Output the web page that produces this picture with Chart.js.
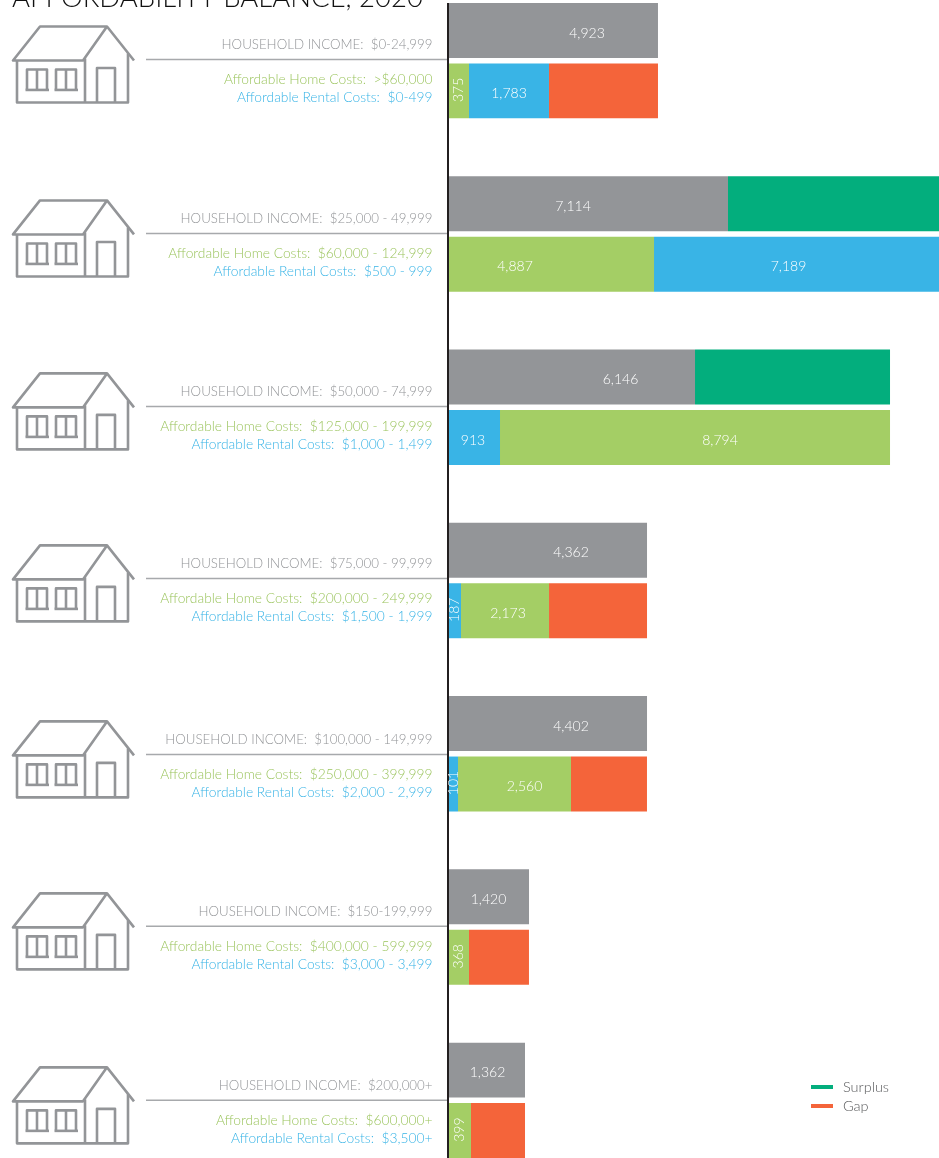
<!DOCTYPE html>
<html><head><meta charset="utf-8">
<script src="https://cdn.jsdelivr.net/npm/chart.js@4"></script>
<style>html,body{margin:0;padding:0;background:#fff;overflow:hidden;width:939px;height:1158px}
#wrap{position:absolute;left:0;top:-26px;width:939px;height:1213px}</style>
</head><body><div id="wrap"><canvas id="c" width="939" height="1213"></canvas></div>
<script>
const title = "AFFORDABILITY BALANCE, 2020";
const incomeBands = ["HOUSEHOLD INCOME:  $0-24,999","HOUSEHOLD INCOME:  $25,000 - 49,999","HOUSEHOLD INCOME:  $50,000 - 74,999","HOUSEHOLD INCOME:  $75,000 - 99,999","HOUSEHOLD INCOME:  $100,000 - 149,999","HOUSEHOLD INCOME:  $150-199,999","HOUSEHOLD INCOME:  $200,000+"];
const homeCosts = ["Affordable Home Costs:  >$60,000","Affordable Home Costs:  $60,000 - 124,999","Affordable Home Costs:  $125,000 - 199,999","Affordable Home Costs:  $200,000 - 249,999","Affordable Home Costs:  $250,000 - 399,999","Affordable Home Costs:  $400,000 - 599,999","Affordable Home Costs:  $600,000+"];
const rentalCosts = ["Affordable Rental Costs:  $0-499","Affordable Rental Costs:  $500 - 999","Affordable Rental Costs:  $1,000 - 1,499","Affordable Rental Costs:  $1,500 - 1,999","Affordable Rental Costs:  $2,000 - 2,999","Affordable Rental Costs:  $3,000 - 3,499","Affordable Rental Costs:  $3,500+"];
// Bar lengths (the source is not drawn strictly to its printed numbers)
const households   = [5132,6843,6037,4864,4864,1980,1882];
const surplus      = [null,5157,4766,null,null,null,null];
const rentalFirst  = [null,null,1271,318,244,null,null];
const homeUnits    = [513,5035,9532,2151,2762,513,562];
const rentalAfter  = [1955,6965,null,null,null,null,null];
const gap          = [2664,null,null,2395,1857,1466,1320];
// Printed numbers
const householdLabels   = ["4,923","7,114","6,146","4,362","4,402","1,420","1,362"];
const rentalFirstLabels = [null,null,"913","187","101",null,null];
const homeLabels        = ["375","4,887","8,794","2,173","2,560","368","399"];
const rentalAfterLabels = ["1,783","7,189",null,null,null,null,null];

const GREY="#939598",GREEN="#A4CE65",BLUE="#39B4E6",TEAL="#03AE7D",ORANGE="#F4643A";
const FONT='"Lato"';
const TOP=26;
const labelShift = {households:[34,-15,49,23.5,23.5,0,1],home:[0,-36,25,3,10,0,0],rentalFirst:[0,0,-1,0,0,0,0],rentalAfter:[0,-8,0,0,0,0,0]};
const rowNudge=[-1.6,-0.9,-1.2,-2.5,0.2,-1.1,-0.4];

const labelSets=[{ds:0,labels:householdLabels,shift:labelShift.households},{ds:2,labels:rentalFirstLabels,shift:labelShift.rentalFirst},{ds:3,labels:homeLabels,shift:labelShift.home},{ds:4,labels:rentalAfterLabels,shift:labelShift.rentalAfter}];

function house(ctx,dy){
  ctx.save();ctx.translate(0,dy);ctx.strokeStyle=GREY;ctx.lineWidth=2.6;ctx.lineJoin="round";ctx.lineCap="butt";
  const P=(pts)=>{ctx.beginPath();pts.forEach((p,i)=>i?ctx.lineTo(p[0],p[1]):ctx.moveTo(p[0],p[1]));ctx.stroke();};
  P([[134,60],[107,26],[40,26],[13,60],[83,60],[107,26]]);
  P([[17,60],[17,102],[128,102],[128,53]]);
  P([[85,58],[85,102]]);
  P([[97,102],[97,67.5],[115,67.5],[115,102]]);
  [[27,47],[56,76]].forEach(([a,b])=>{P([[a,89],[a,69],[b,69],[b,89]]);P([[(a+b)/2,69],[(a+b)/2,89]]);P([[a-1.5,89.5],[b+2,89.5]]);});
  ctx.restore();
}
const decor={id:"decor",afterDraw(chart){
  const ctx=chart.ctx,y=chart.scales.y;
  ctx.save();
  // hide the axis above its visible start
  ctx.fillStyle="#fff";ctx.fillRect(440,0,16,TOP+3);
  // value labels
  ctx.fillStyle="#fff";ctx.textBaseline="middle";ctx.textAlign="center";
  labelSets.forEach(s=>{const m=chart.getDatasetMeta(s.ds);s.labels.forEach((t,i)=>{if(!t)return;const e=m.data[i];
    const w=Math.abs(e.x-e.base),cx=(e.x+e.base)/2+s.shift[i];
    if(w<26){ctx.save();ctx.translate(cx,e.y-1);ctx.rotate(-Math.PI/2);ctx.font="300 14px "+FONT;ctx.fillText(t,0,0);ctx.restore();}
    else{ctx.font="300 14px "+FONT;ctx.fillText(t,cx,e.y+2.6);}
  });});
  ctx.translate(0,TOP);
  // title, partly cut off by the page edge
  ctx.fillStyle="#111";ctx.textAlign="left";ctx.textBaseline="alphabetic";ctx.font="300 27.5px "+FONT;
  ctx.fillText(title,12,7);
  incomeBands.forEach((t,i)=>{
    const c=y.getPixelForValue(i)-TOP, d=c+rowNudge[i]+0.4;
    house(ctx,d-59);
    ctx.strokeStyle="#A7A9AC";ctx.lineWidth=1.5;ctx.beginPath();ctx.moveTo(146,d);ctx.lineTo(447,d);ctx.stroke();
    ctx.textAlign="right";ctx.textBaseline="middle";
    ctx.font="300 13.3px "+FONT;
    ctx.fillStyle=GREY;ctx.fillText(t,432.5,d-14.5);
    ctx.font="300 13.8px "+FONT;
    ctx.fillStyle="#9CC55F";ctx.fillText(homeCosts[i],432.5,d+20.5);
    ctx.fillStyle=BLUE;ctx.fillText(rentalCosts[i],432.5,d+38.2);
  });
  // legend
  [[TEAL,"Surplus",1087],[ORANGE,"Gap",1106]].forEach(([col,t,ly])=>{
    ctx.fillStyle=col;ctx.fillRect(811,ly-2,22,4);
    ctx.fillStyle="#58595B";ctx.textAlign="left";ctx.textBaseline="middle";ctx.font="300 14.5px "+FONT;ctx.fillText(t,843,ly);
  });
  ctx.restore();
}};
const ds=(label,data,color,stack)=>({label,data,backgroundColor:color,stack,borderWidth:0,categoryPercentage:0.698,barPercentage:0.909});
new Chart(document.getElementById("c"),{
  type:"bar",
  data:{labels:incomeBands,datasets:[
    ds("Households",households,GREY,"income"),
    ds("Surplus",surplus,TEAL,"income"),
    ds("Affordable rental",rentalFirst,BLUE,"afford"),
    ds("Affordable home",homeUnits,GREEN,"afford"),
    ds("Affordable rental (after)",rentalAfter,BLUE,"afford"),
    ds("Gap",gap,ORANGE,"afford")
  ]},
  options:{indexAxis:"y",responsive:false,animation:false,
    layout:{padding:{left:448,right:0,top:0,bottom:0}},
    plugins:{legend:{display:false},tooltip:{enabled:false},title:{display:false}},
    scales:{
      x:{display:false,stacked:true,min:0,max:12000},
      y:{display:true,stacked:true,offset:true,grid:{display:false,drawTicks:false},ticks:{display:false},
         border:{display:true,color:"#231F20",width:2,z:1}}
    }},
  plugins:[decor]
});
</script></body></html>
